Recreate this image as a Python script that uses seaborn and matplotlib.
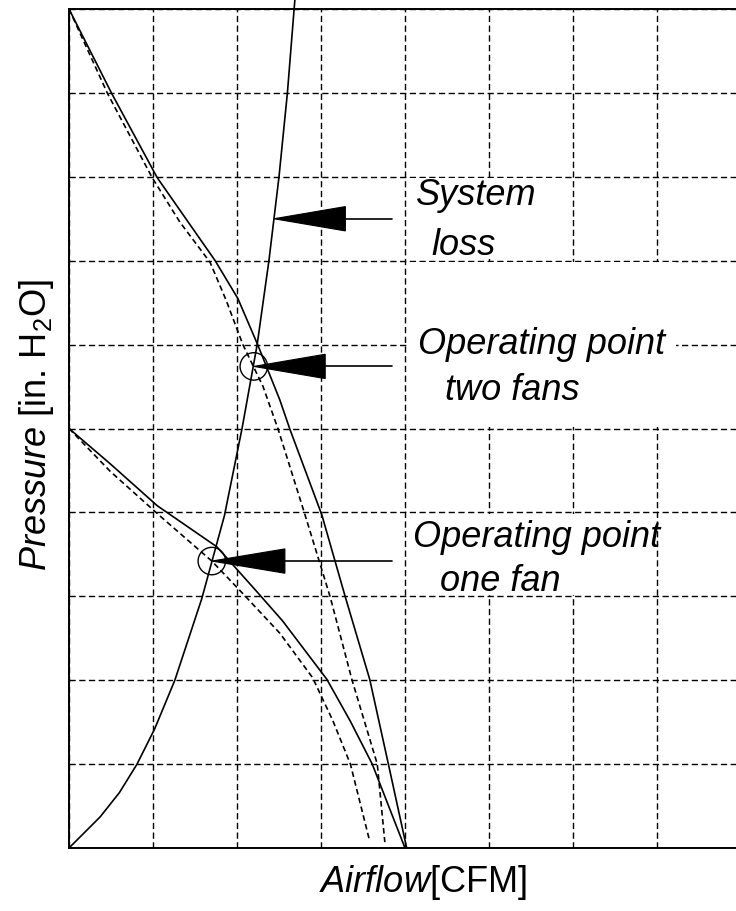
import numpy as np
import matplotlib
matplotlib.use("Agg")
import matplotlib.pyplot as plt
import seaborn as sns
from matplotlib.patches import Rectangle, Polygon

# ---- fan and system curves (airflow and pressure in grid units) ----
two_fans_airflow = [0, 0.51, 1.05, 1.74, 2.01, 2.25, 2.51, 2.63, 3.01, 3.29, 3.58, 3.80, 4.02]
two_fans_pressure = [10, 8.99, 7.99, 7.0, 6.55, 5.99, 5.34, 4.99, 3.97, 2.99, 2.01, 1.01, 0]

two_fans_alt_airflow = [0, 0.46, 0.99, 1.32, 1.68, 1.87, 2.07, 2.31, 2.49, 2.81, 3.11, 3.37, 3.67, 3.76]
two_fans_alt_pressure = [10, 8.99, 7.99, 7.46, 6.98, 6.53, 6.0, 5.5, 4.99, 3.97, 2.99, 2.0, 1.0, 0.07]

one_fan_airflow = [0, 0.49, 1.05, 1.76, 2.25, 2.54, 3.07, 3.35, 3.61, 4.0]
one_fan_pressure = [5, 4.58, 4.08, 3.59, 3.04, 2.71, 2.01, 1.51, 1.0, 0]

one_fan_alt_airflow = [0, 0.49, 1.08, 1.70, 2.10, 2.51, 2.90, 3.14, 3.35, 3.58]
one_fan_alt_pressure = [5, 4.49, 3.96, 3.42, 3.0, 2.56, 2.03, 1.52, 1.0, 0.08]

system_airflow = [0, 0.37, 0.60, 0.81, 1.02, 1.26, 1.58, 1.85, 2.06, 2.24, 2.38, 2.50, 2.60, 2.68, 2.69]
system_pressure = [0, 0.37, 0.66, 1.0, 1.42, 2.0, 2.97, 3.96, 5.0, 6.0, 7.0, 8.0, 9.0, 10.0, 10.12]

# operating points (one fan, two fans)
op_airflow = [1.70, 2.20]
op_pressure = [3.42, 5.74]

labels = ["System\n loss", "Operating point\n  two fans", "Operating point\n  one fan"]

# ---- styling ----
sns.set_theme(style="white")
plt.rcParams["font.family"] = ["Liberation Sans", "DejaVu Sans"]
plt.rcParams["mathtext.fontset"] = "custom"
plt.rcParams["mathtext.rm"] = "Liberation Sans"
plt.rcParams["mathtext.it"] = "Liberation Sans:italic"
plt.rcParams["lines.scale_dashes"] = False
plt.rcParams["text.color"] = "black"
plt.rcParams["axes.labelcolor"] = "black"

W, H = 736, 912
fig = plt.figure(figsize=(W / 100, H / 100), dpi=100)
ax = fig.add_axes([69 / W, 63 / H, 672 / W, 839 / H])
ax.set_xlim(0, 8)
ax.set_ylim(0, 10)

ax.set_xticks(np.arange(0, 9))
ax.set_yticks(np.arange(0, 11))
ax.set_xticklabels([])
ax.set_yticklabels([])
ax.tick_params(length=0)
ax.set_axisbelow(True)
ax.grid(True, color="black", linestyle=(0, (4.5, 2.5)), linewidth=1.0)
for sp in ax.spines.values():
    sp.set_color("black")
    sp.set_linewidth(1.4)

solid = "-"
dashed = (0, (4.0, 2.5))


def curve(x, y, ls, clip=True):
    sns.lineplot(x=x, y=y, ax=ax, color="black", linewidth=1.2,
                 sort=False, estimator=None, zorder=3)
    line = ax.lines[-1]
    line.set_linestyle(ls)
    line.set_clip_on(clip)


curve(two_fans_airflow, two_fans_pressure, solid)
curve(two_fans_alt_airflow, two_fans_alt_pressure, dashed)
curve(one_fan_airflow, one_fan_pressure, solid)
curve(one_fan_alt_airflow, one_fan_alt_pressure, dashed)
curve(system_airflow, system_pressure, solid, clip=False)

# open circles at the operating points
sns.scatterplot(x=op_airflow, y=op_pressure, ax=ax, marker="o", s=390,
                facecolor="none", edgecolor="black", linewidth=1.0, zorder=5)

# white panels behind the annotation texts
ax.add_patch(Rectangle((4.03, 7.02), 1.85, 0.96, facecolor="white",
                       edgecolor="none", zorder=1))
ax.add_patch(Rectangle((4.03, 5.02), 3.2, 1.96, facecolor="white",
                       edgecolor="none", zorder=1))
ax.add_patch(Rectangle((4.03, 3.02), 2.92, 0.96, facecolor="white",
                       edgecolor="none", zorder=1))

# arrows: filled wedge from the curve point, then a thin leader line
sys_tip_y = 7.5
sys_tip_x = float(np.interp(sys_tip_y, system_pressure, system_airflow))
arrows = [
    ((sys_tip_x, sys_tip_y), 3.29),
    ((op_airflow[1], op_pressure[1]), 3.05),
    ((op_airflow[0], op_pressure[0]), 2.57),
]
half = 0.145
line_end = 3.85
for (tx, ty), bx in arrows:
    ax.add_patch(Polygon([(tx, ty), (bx, ty + half), (bx, ty - half)],
                         closed=True, facecolor="black", edgecolor="black",
                         linewidth=0.8, zorder=6))
    ax.plot([bx, line_end], [ty, ty], color="black", linewidth=1.2, zorder=6)

# annotation texts
text_pos = [(4.13, 7.67, 4.31, 7.08), (4.15, 5.90, 4.48, 5.35), (4.09, 3.60, 4.42, 3.07)]
for lab, (x1, y1, x2, y2) in zip(labels, text_pos):
    first, second = lab.split("\n")
    ax.text(x1, y1, first, fontsize=26, style="italic", ha="left",
            va="baseline", color="black", zorder=7)
    ax.text(x2, y2, second.strip(), fontsize=26, style="italic", ha="left",
            va="baseline", color="black", zorder=7)

ax.set_xlabel(r"$\mathit{Airflow}$[CFM]", fontsize=26)
ax.xaxis.set_label_coords(0.527, -0.017)
ax.set_ylabel(r"$\mathit{Pressure}$ [in. H$_2$O]", fontsize=26)
ax.yaxis.set_label_coords(-0.02, 0.505)

fig.savefig("out.png", dpi=100)
